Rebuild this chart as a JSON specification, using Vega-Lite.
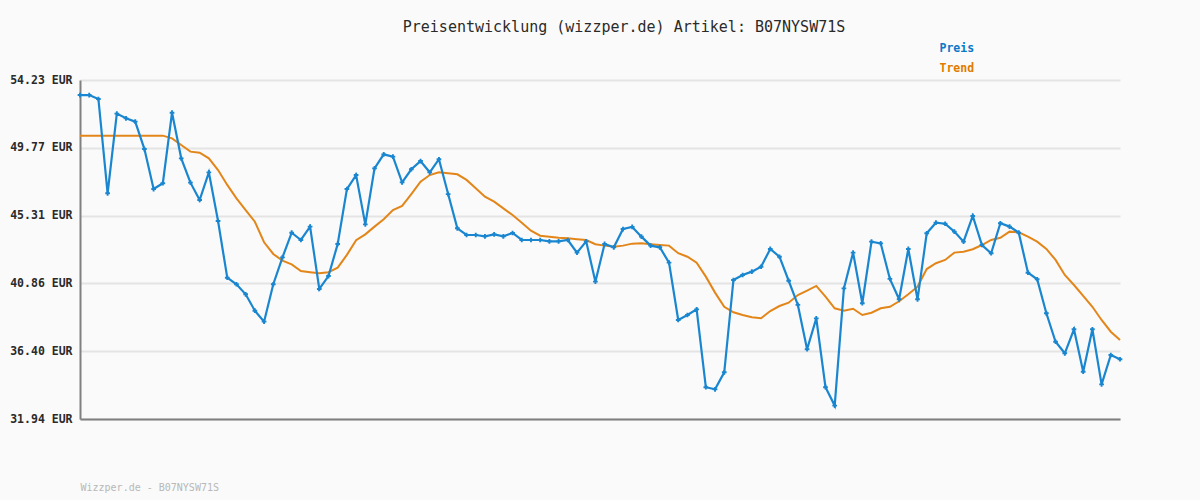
{
  "$schema": "https://vega.github.io/schema/vega-lite/v6.json",
  "width": 1040,
  "height": 339,
  "autosize": {"type": "none"},
  "padding": {"left": 80, "top": 80, "right": 80, "bottom": 81},
  "background": "#fafafa",
  "title": {
    "text": "Preisentwicklung (wizzper.de) Artikel: B07NYSW71S",
    "font": "DejaVu Sans Mono",
    "fontSize": 15,
    "fontWeight": "normal",
    "color": "#2a2a2a",
    "anchor": "middle",
    "dx": 24,
    "baseline": "alphabetic",
    "offset": -4
  },
  "config": {
    "view": {"stroke": null},
    "font": "DejaVu Sans Mono"
  },
  "data": {
    "values": [
      {"i":0,"Preis":53.24,"Trend":50.57},{"i":1,"Preis":53.24,"Trend":50.57},{"i":2,"Preis":52.98,"Trend":50.57},{"i":3,"Preis":46.78,"Trend":50.57},
      {"i":4,"Preis":52.02,"Trend":50.57},{"i":5,"Preis":51.71,"Trend":50.57},{"i":6,"Preis":51.49,"Trend":50.57},{"i":7,"Preis":49.69,"Trend":50.57},
      {"i":8,"Preis":47.06,"Trend":50.57},{"i":9,"Preis":47.44,"Trend":50.57},{"i":10,"Preis":52.08,"Trend":50.39},{"i":11,"Preis":49.08,"Trend":49.96},
      {"i":12,"Preis":47.48,"Trend":49.52},{"i":13,"Preis":46.34,"Trend":49.45},{"i":14,"Preis":48.16,"Trend":49.08},{"i":15,"Preis":44.96,"Trend":48.31},
      {"i":16,"Preis":41.23,"Trend":47.33},{"i":17,"Preis":40.80,"Trend":46.45},{"i":18,"Preis":40.14,"Trend":45.68},{"i":19,"Preis":39.06,"Trend":44.91},
      {"i":20,"Preis":38.34,"Trend":43.56},{"i":21,"Preis":40.80,"Trend":42.79},{"i":22,"Preis":42.57,"Trend":42.35},{"i":23,"Preis":44.19,"Trend":42.11},
      {"i":24,"Preis":43.71,"Trend":41.67},{"i":25,"Preis":44.59,"Trend":41.59},{"i":26,"Preis":40.49,"Trend":41.52},{"i":27,"Preis":41.34,"Trend":41.59},
      {"i":28,"Preis":43.45,"Trend":41.89},{"i":29,"Preis":47.06,"Trend":42.73},{"i":30,"Preis":47.98,"Trend":43.70},{"i":31,"Preis":44.74,"Trend":44.08},
      {"i":32,"Preis":48.42,"Trend":44.59},{"i":33,"Preis":49.34,"Trend":45.07},{"i":34,"Preis":49.19,"Trend":45.68},{"i":35,"Preis":47.50,"Trend":45.95},
      {"i":36,"Preis":48.36,"Trend":46.73},{"i":37,"Preis":48.90,"Trend":47.54},{"i":38,"Preis":48.16,"Trend":47.98},{"i":39,"Preis":49.02,"Trend":48.16},
      {"i":40,"Preis":46.73,"Trend":48.10},{"i":41,"Preis":44.48,"Trend":48.03},{"i":42,"Preis":44.04,"Trend":47.66},{"i":43,"Preis":44.04,"Trend":47.11},
      {"i":44,"Preis":43.95,"Trend":46.56},{"i":45,"Preis":44.08,"Trend":46.23},{"i":46,"Preis":43.95,"Trend":45.79},{"i":47,"Preis":44.17,"Trend":45.35},
      {"i":48,"Preis":43.71,"Trend":44.85},{"i":49,"Preis":43.71,"Trend":44.32},{"i":50,"Preis":43.71,"Trend":43.99},{"i":51,"Preis":43.62,"Trend":43.93},
      {"i":52,"Preis":43.62,"Trend":43.86},{"i":53,"Preis":43.71,"Trend":43.82},{"i":54,"Preis":42.88,"Trend":43.76},{"i":55,"Preis":43.62,"Trend":43.71},
      {"i":56,"Preis":40.97,"Trend":43.43},{"i":57,"Preis":43.45,"Trend":43.34},{"i":58,"Preis":43.23,"Trend":43.27},{"i":59,"Preis":44.43,"Trend":43.34},
      {"i":60,"Preis":44.57,"Trend":43.47},{"i":61,"Preis":43.93,"Trend":43.49},{"i":62,"Preis":43.34,"Trend":43.43},{"i":63,"Preis":43.23,"Trend":43.38},
      {"i":64,"Preis":42.22,"Trend":43.34},{"i":65,"Preis":38.45,"Trend":42.84},{"i":66,"Preis":38.78,"Trend":42.61},{"i":67,"Preis":39.15,"Trend":42.22},
      {"i":68,"Preis":34.03,"Trend":41.30},{"i":69,"Preis":33.89,"Trend":40.25},{"i":70,"Preis":35.01,"Trend":39.32},{"i":71,"Preis":41.08,"Trend":38.96},
      {"i":72,"Preis":41.41,"Trend":38.78},{"i":73,"Preis":41.63,"Trend":38.63},{"i":74,"Preis":41.95,"Trend":38.56},{"i":75,"Preis":43.12,"Trend":39.04},
      {"i":76,"Preis":42.61,"Trend":39.37},{"i":77,"Preis":41.03,"Trend":39.59},{"i":78,"Preis":39.44,"Trend":40.09},{"i":79,"Preis":36.53,"Trend":40.38},
      {"i":80,"Preis":38.56,"Trend":40.69},{"i":81,"Preis":34.03,"Trend":39.98},{"i":82,"Preis":32.82,"Trend":39.22},{"i":83,"Preis":40.53,"Trend":39.06},
      {"i":84,"Preis":42.88,"Trend":39.19},{"i":85,"Preis":39.55,"Trend":38.78},{"i":86,"Preis":43.60,"Trend":38.93},{"i":87,"Preis":43.49,"Trend":39.22},
      {"i":88,"Preis":41.15,"Trend":39.32},{"i":89,"Preis":39.81,"Trend":39.68},{"i":90,"Preis":43.12,"Trend":40.14},{"i":91,"Preis":39.81,"Trend":40.64},
      {"i":92,"Preis":44.15,"Trend":41.80},{"i":93,"Preis":44.85,"Trend":42.18},{"i":94,"Preis":44.78,"Trend":42.40},{"i":95,"Preis":44.26,"Trend":42.88},
      {"i":96,"Preis":43.60,"Trend":42.94},{"i":97,"Preis":45.29,"Trend":43.10},{"i":98,"Preis":43.38,"Trend":43.38},{"i":99,"Preis":42.84,"Trend":43.71},
      {"i":100,"Preis":44.81,"Trend":43.86},{"i":101,"Preis":44.59,"Trend":44.26},{"i":102,"Preis":44.19,"Trend":44.22},{"i":103,"Preis":41.56,"Trend":43.93},
      {"i":104,"Preis":41.13,"Trend":43.60},{"i":105,"Preis":38.89,"Trend":43.12},{"i":106,"Preis":37.02,"Trend":42.40},{"i":107,"Preis":36.26,"Trend":41.41},
      {"i":108,"Preis":37.84,"Trend":40.75},{"i":109,"Preis":35.05,"Trend":40.03},{"i":110,"Preis":37.84,"Trend":39.32},{"i":111,"Preis":34.22,"Trend":38.45},
      {"i":112,"Preis":36.15,"Trend":37.68},{"i":113,"Preis":35.87,"Trend":37.13}
    ]
  },
  "transform": [
    {"fold": ["Preis", "Trend"], "as": ["serie", "wert"]}
  ],
  "encoding": {
    "x": {
      "field": "i",
      "type": "quantitative",
      "scale": {"domain": [0, 113], "nice": false, "zero": false},
      "axis": {
        "title": "Wizzper.de - B07NYSW71S",
        "titleFont": "DejaVu Sans Mono",
        "titleFontSize": 10,
        "titleFontWeight": "normal",
        "titleColor": "#b8b8b8",
        "titleAnchor": "start",
        "titleAlign": "left",
        "titlePadding": 63,
        "labels": false,
        "ticks": false,
        "grid": false,
        "domainColor": "#808080",
        "domainWidth": 2
      }
    },
    "y": {
      "field": "wert",
      "type": "quantitative",
      "scale": {"domain": [31.94, 54.23], "nice": false, "zero": false},
      "axis": {
        "title": null,
        "values": [31.94, 36.40, 40.86, 45.31, 49.77, 54.23],
        "labelExpr": "format(datum.value, '.2f') + ' EUR'",
        "labelFont": "DejaVu Sans Mono",
        "labelFontSize": 11.5,
        "labelFontWeight": "bold",
        "labelColor": "#2a2a2a",
        "labelPadding": 8,
        "ticks": false,
        "grid": true,
        "gridColor": "#e4e4e4",
        "gridWidth": 2,
        "domainColor": "#808080",
        "domainWidth": 2
      }
    },
    "color": {
      "field": "serie",
      "type": "nominal",
      "scale": {"domain": ["Preis", "Trend"], "range": ["#1a86d0", "#e3861a"]},
      "legend": {
        "title": null,
        "orient": "none",
        "legendX": 848,
        "legendY": -37,
        "symbolOpacity": 0,
        "symbolSize": 0,
        "symbolStrokeWidth": 0,
        "labelOffset": 0,
        "rowPadding": 7,
        "labelFont": "DejaVu Sans Mono",
        "labelFontSize": 11.5,
        "labelFontWeight": "bold",
        "labelColor": {"expr": "datum.value === 'Preis' ? '#0a78c8' : '#e07b00'"}
      }
    }
  },
  "layer": [
    {
      "transform": [{"filter": "datum.serie === 'Trend'"}],
      "mark": {"type": "line", "strokeWidth": 2}
    },
    {
      "transform": [{"filter": "datum.serie === 'Preis'"}],
      "mark": {"type": "line", "strokeWidth": 2.2}
    },
    {
      "transform": [{"filter": "datum.serie === 'Preis'"}],
      "mark": {"type": "point", "shape": "cross", "filled": true, "size": 22, "opacity": 1}
    }
  ]
}
